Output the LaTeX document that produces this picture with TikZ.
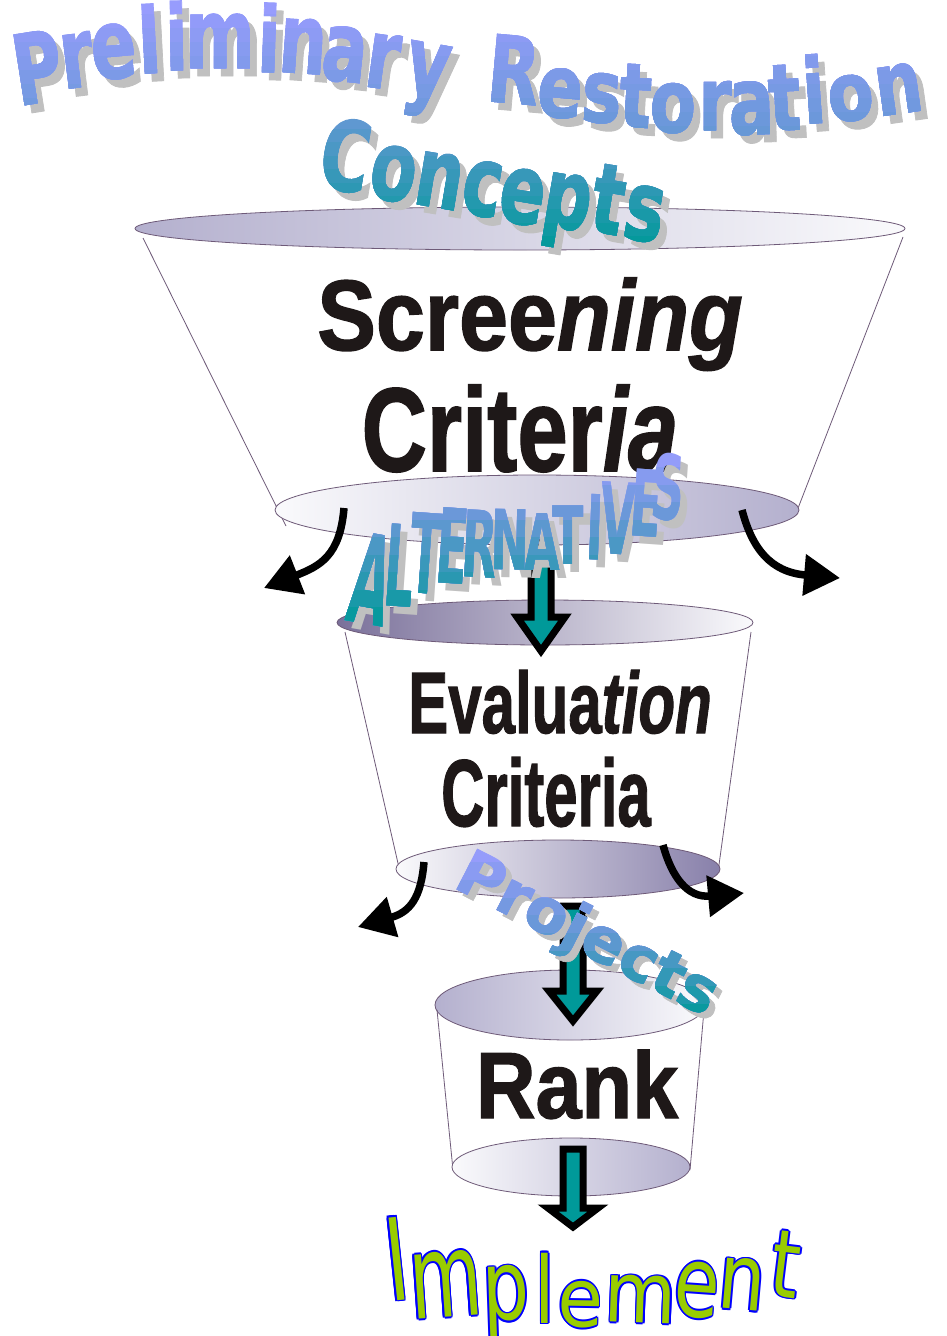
\documentclass[tikz,border=0pt]{standalone}
\usepackage{fontspec}
\usepackage{graphicx}
\usetikzlibrary{arrows.meta}
\newfontfamily\arialf[FakeBold=1.5]{Liberation Sans}
\newfontfamily\verdf[FakeBold=1]{DejaVu Sans}
\newfontfamily\verdfI{DejaVu Sans}
\definecolor{wlav}{RGB}{154,156,255}
\definecolor{wblu}{RGB}{100,152,212}
\definecolor{wtea}{RGB}{0,153,153}
\definecolor{wsh}{RGB}{192,192,192}
\definecolor{rim}{RGB}{110,90,120}
\definecolor{txtblk}{RGB}{30,24,24}
\definecolor{iblue}{RGB}{0,0,255}
\definecolor{igreen}{RGB}{153,204,0}
\definecolor{aTeal}{RGB}{0,153,153}
\definecolor{fA}{RGB}{180,176,206}
\definecolor{fB}{RGB}{122,112,154}
\definecolor{fC}{RGB}{136,128,170}
\definecolor{fW}{RGB}{250,250,252}
\colorlet{bandc}{wblu}
\newcount\wlc
\def\wfs{67pt}
\def\wfont{\verdf}
\def\wsx{7}
\def\wsy{8}
\tikzset{
  wshadow/.style={anchor=base, inner sep=0pt, text=wsh, font=\wfont\bfseries},
  wfillst/.style={anchor=base, inner sep=0pt, font=\wfont\bfseries},
  ifont/.style={anchor=base, inner sep=0pt, font=\verdfI},
  btext/.style={anchor=base, inner sep=0pt, text=txtblk, font=\arialf\bfseries},
  rimline/.style={draw=rim, line width=0.8pt},
  blkarrow/.style={line width=7.5pt, -{Triangle[length=36pt,width=40pt]}},
  blockarrow/.style={fill=aTeal, draw=black, line width=7pt, line join=miter}
}
\newcommand\wsh[7]{\global\advance\wlc by 1
  \node[wshadow, rotate=#4] (ws\the\wlc) at (#2+\wsx,#3+\wsy) {\fontsize{\wfs}{\wfs}\selectfont\scalebox{#5}[#6]{#1}};}
\newcommand\wflb[7]{\global\advance\wlc by 1
  \node[wfillst, rotate=#4, text=bandc] (wf\the\wlc) at (#2,#3) {\fontsize{\wfs}{\wfs}\selectfont\scalebox{#5}[#6]{#1}};}
\newcommand\ibl[6]{%
  \foreach \dx/\dy in {1.7/0,-1.7/0,0/1.7,0/-1.7,1.2/1.2,-1.2/1.2,1.2/-1.2,-1.2/-1.2}{%
    \global\advance\wlc by 1
    \node[ifont, rotate=#4, text=iblue] (ib\the\wlc) at (#2+\dx,#3+\dy) {\fontsize{74pt}{74pt}\selectfont\scalebox{#5}[#6]{#1}};
  }}
\newcommand\igr[6]{\global\advance\wlc by 1
  \node[ifont, rotate=#4, text=igreen] (ig\the\wlc) at (#2,#3) {\fontsize{74pt}{74pt}\selectfont\scalebox{#5}[#6]{#1}};}
% vertical gradient fill of a word-art object by overpainted clipped bands
% #1 word macro, #2 ytop, #3 ybot, #4 ymid (colour wblu), #5 top colour, #6 bottom colour
\newcommand\gradfill[6]{%
  \foreach \i in {0,...,9}{%
    \pgfmathsetmacro\ya{#2+\i*(#3-#2)/10}%
    \pgfmathsetmacro\yc{\ya+(#3-#2)/20}%
    \ifdim\yc pt<#4pt
      \pgfmathsetmacro\pc{max(0,min(100,(\yc-#2)/(#4-#2)*100))}%
      \colorlet{bandc}{wblu!\pc!#5}%
    \else
      \pgfmathsetmacro\pc{max(0,min(100,(\yc-#4)/(#3-#4+0.001)*100))}%
      \colorlet{bandc}{#6!\pc!wblu}%
    \fi
    \begin{scope}
      \ifnum\i>0 \clip (0,\ya) rectangle (946,1336);\fi
      #1\wflb
    \end{scope}
  }}

\newcommand\wordPR[1]{%
#1{P}{43}{102}{9}{1}{1.45}{}%
#1{r}{80}{87}{7}{1}{1.45}{}%
#1{e}{116}{78}{5}{1}{1.45}{}%
#1{l}{151}{73}{3}{1}{1.36}{}%
#1{i}{177}{70}{1}{1}{1.36}{}%
#1{m}{220}{68}{0}{1}{1.45}{}%
#1{i}{268}{72}{-2}{1}{1.36}{}%
#1{n}{301}{73}{-4}{1}{1.45}{}%
#1{a}{342}{81}{-6}{1}{1.45}{}%
#1{r}{379}{88}{-8}{1}{1.45}{}%
#1{y}{423}{96}{-10}{1}{1.45}{}%
#1{R}{511}{103}{-5}{1}{1.38}{}%
#1{e}{558}{117}{-5}{1}{1.3}{}%
#1{s}{600}{122}{-4}{1}{1.3}{}%
#1{t}{634}{127}{-3}{1}{1.33}{}%
#1{o}{672}{132}{-2}{1}{1.3}{}%
#1{r}{715}{130}{0}{1}{1.3}{}%
#1{a}{752}{134}{1}{1}{1.4}{}%
#1{t}{786}{130}{3}{1}{1.38}{}%
#1{i}{816}{123}{4}{1}{1.35}{}%
#1{o}{853}{120}{6}{1}{1.2}{}%
#1{n}{902}{113}{8}{1}{1.3}{}%
}
\newcommand\wordCo[1]{%
#1{C}{340}{190}{-9.5}{1}{1.45}{}%
#1{o}{389}{200}{-9.5}{1}{1.45}{}%
#1{n}{435}{207}{-9.5}{1}{1.45}{}%
#1{c}{478}{215}{-9.5}{1}{1.45}{}%
#1{e}{518}{223}{-9.5}{1}{1.45}{}%
#1{p}{563}{228}{-9.5}{1}{1.45}{}%
#1{t}{603}{233}{-9.5}{1}{1.45}{}%
#1{s}{640}{240}{-9.5}{1}{1.45}{}%
}
\newcommand\wordAl[1]{%
#1{A}{364}{624}{-10}{1.1}{2.7}{}%
#1{L}{397}{607}{-4}{1}{2.45}{}%
#1{T}{423}{594}{-4}{1}{2.4}{}%
#1{E}{450}{584}{-4}{1}{2.25}{}%
#1{R}{478}{577}{-3}{1}{2.0}{}%
#1{N}{510}{570}{-1}{1}{1.8}{}%
#1{A}{542}{570}{0}{1}{1.7}{}%
#1{T}{568}{564}{0}{1}{1.75}{}%
#1{I}{594}{560}{-2}{1}{1.95}{}%
#1{V}{616}{554}{-3}{1}{2.15}{}%
#1{E}{644}{537}{-4}{1}{2.0}{}%
#1{S}{666}{520}{-4}{1}{1.95}{}%
}
\newcommand\wordPj[1]{%
#1{P}{472}{897}{-27}{1}{1}{}%
#1{r}{505.8}{914.3}{-27}{1}{1}{}%
#1{o}{538.4}{931}{-27}{1}{1}{}%
#1{j}{566.8}{945.6}{-27}{1}{1}{}%
#1{e}{595}{960}{-27}{1}{1}{}%
#1{c}{630.1}{978}{-27}{1}{1}{}%
#1{t}{659.7}{993.2}{-27}{1}{1}{}%
#1{s}{689.3}{1008.4}{-27}{1}{1}{}%
}
\newcommand\wordIm[1]{%
#1{I}{401}{1300}{6}{1}{1.54}%
#1{m}{448}{1317}{4}{1}{1.58}%
#1{p}{507}{1320}{2}{1}{1.31}%
#1{l}{545}{1323}{0}{1}{1.25}%
#1{e}{580}{1327}{-1}{1}{1.1}%
#1{m}{640}{1323}{-2}{1}{1.14}%
#1{e}{695}{1317}{-4}{1}{1.33}%
#1{n}{740}{1310}{-5}{1}{1.24}%
#1{t}{782}{1297}{-7}{1}{1.27}%
}

\begin{document}
\begin{tikzpicture}[x=1pt,y=-1pt]
\fill[white] (0,0) rectangle (946,1336);
\useasboundingbox (0,0) rectangle (946,1336);

% ---------- funnel 1 ----------
\coordinate (f1tc) at (520,228.5);
\coordinate (f1bc) at (537,510);
\shade[left color=fA, right color=fW, rimline] (f1tc) ellipse [x radius=385, y radius=21.5];
\coordinate (f1l1) at (143,238); \coordinate (f1l2) at (286,526);
\coordinate (f1r1) at (903,237); \coordinate (f1r2) at (795,516);
\draw[rimline] (f1l1) -- (f1l2);
\draw[rimline] (f1r1) -- (f1r2);
\node[btext] (scr) at (530,350) {\fontsize{100pt}{100pt}\selectfont\scalebox{0.88}[1]{Scree\textit{ning}}};
\node[btext] (crit1) at (520,471) {\fontsize{119pt}{119pt}\selectfont\scalebox{0.76}[1]{Criter\textit{ia}}};
\shade[left color=fW, right color=fA, rimline] (f1bc) ellipse [x radius=262, y radius=35];

% ---------- funnel 2 ----------
\coordinate (f2tc) at (545,622.5);
\coordinate (f2bc) at (558,869);
\shade[left color=fB, right color=fW, rimline] (f2tc) ellipse [x radius=208, y radius=22.5];
\coordinate (f2l1) at (345,632); \coordinate (f2l2) at (400,872);
\coordinate (f2r1) at (751,632); \coordinate (f2r2) at (718,872);
\draw[rimline] (f2l1) -- (f2l2);
\draw[rimline] (f2r1) -- (f2r2);
\node[btext] (eval) at (560,733) {\fontsize{87pt}{87pt}\selectfont\scalebox{0.69}[1]{Evalua\textit{tion}}};
\node[btext] (crit2) at (546,826) {\fontsize{95pt}{95pt}\selectfont\scalebox{0.63}[1]{Criteria}};
\shade[left color=fW, right color=fC, rimline] (f2bc) ellipse [x radius=162, y radius=29];

% ---------- funnel 3 ----------
\coordinate (f3tc) at (570,1005);
\coordinate (f3bc) at (571,1167);
\shade[left color=fA, right color=fW, rimline] (f3tc) ellipse [x radius=135, y radius=35];
\coordinate (f3l1) at (437,1010); \coordinate (f3l2) at (453,1170);
\coordinate (f3r1) at (704,1010); \coordinate (f3r2) at (690,1170);
\draw[rimline] (f3l1) -- (f3l2);
\draw[rimline] (f3r1) -- (f3r2);
\node[btext] (rank) at (577,1118) {\fontsize{94pt}{94pt}\selectfont\scalebox{0.88}[1]{Rank}};
\shade[left color=fW, right color=fA, rimline] (f3bc) ellipse [x radius=119, y radius=29];

% ---------- curved reject arrows ----------
\coordinate (l1s) at (344,508); \coordinate (l1e) at (264,588);
\coordinate (r1s) at (742,510); \coordinate (r1e) at (840,578);
\coordinate (l2s) at (424,862); \coordinate (l2e) at (358,927);
\coordinate (r2s) at (663,845); \coordinate (r2e) at (744,893);
\draw[blkarrow] (l1s) .. controls (340,556) and (320,566) .. (l1e);
\draw[blkarrow] (r1s) .. controls (752,548) and (770,572) .. (r1e);
\draw[blkarrow] (l2s) .. controls (421,898) and (410,912) .. (l2e);
\draw[blkarrow] (r2s) .. controls (672,878) and (688,898) .. (r2e);

% ---------- block arrows ----------
\coordinate (a1t) at (541,542); \coordinate (a1h) at (541,617); \coordinate (a1p) at (541,651);
\coordinate (a2t) at (573,906); \coordinate (a2h) at (573,991); \coordinate (a2p) at (573,1021);
\coordinate (a3t) at (573,1149); \coordinate (a3h) at (573,1208); \coordinate (a3p) at (573,1227);
\draw[blockarrow] ([xshift=-10pt]a1t) -- ([xshift=10pt]a1t) -- ([xshift=10pt]a1h) -- ([xshift=24pt]a1h) -- (a1p) -- ([xshift=-24pt]a1h) -- ([xshift=-10pt]a1h) -- cycle;
\draw[blockarrow] ([xshift=-10pt]a2t) -- ([xshift=10pt]a2t) -- ([xshift=10pt]a2h) -- ([xshift=24pt]a2h) -- (a2p) -- ([xshift=-24pt]a2h) -- ([xshift=-10pt]a2h) -- cycle;
\draw[blockarrow] ([xshift=-10pt]a3t) -- ([xshift=10pt]a3t) -- ([xshift=10pt]a3h) -- ([xshift=25pt]a3h) -- (a3p) -- ([xshift=-25pt]a3h) -- ([xshift=-10pt]a3h) -- cycle;

% ---------- word art ----------
\def\wfs{67pt}
\wordPR\wsh
\gradfill{\wordPR}{0}{140}{140}{wlav}{wblu}
\wordCo\wsh
\gradfill{\wordCo}{116}{250}{116}{wblu}{wtea}
\def\wfs{46pt}\def\wfont{\verdfI}
\wordAl\wsh
\gradfill{\wordAl}{450}{625}{520}{wlav}{wtea}
\def\wfs{62pt}\def\wsx{6}\def\wsy{6}\def\wfont{\verdf}
\wordPj\wsh
\gradfill{\wordPj}{845}{1022}{935}{wlav}{wtea}
\wordIm\ibl
\wordIm\igr
\end{tikzpicture}
\end{document}
